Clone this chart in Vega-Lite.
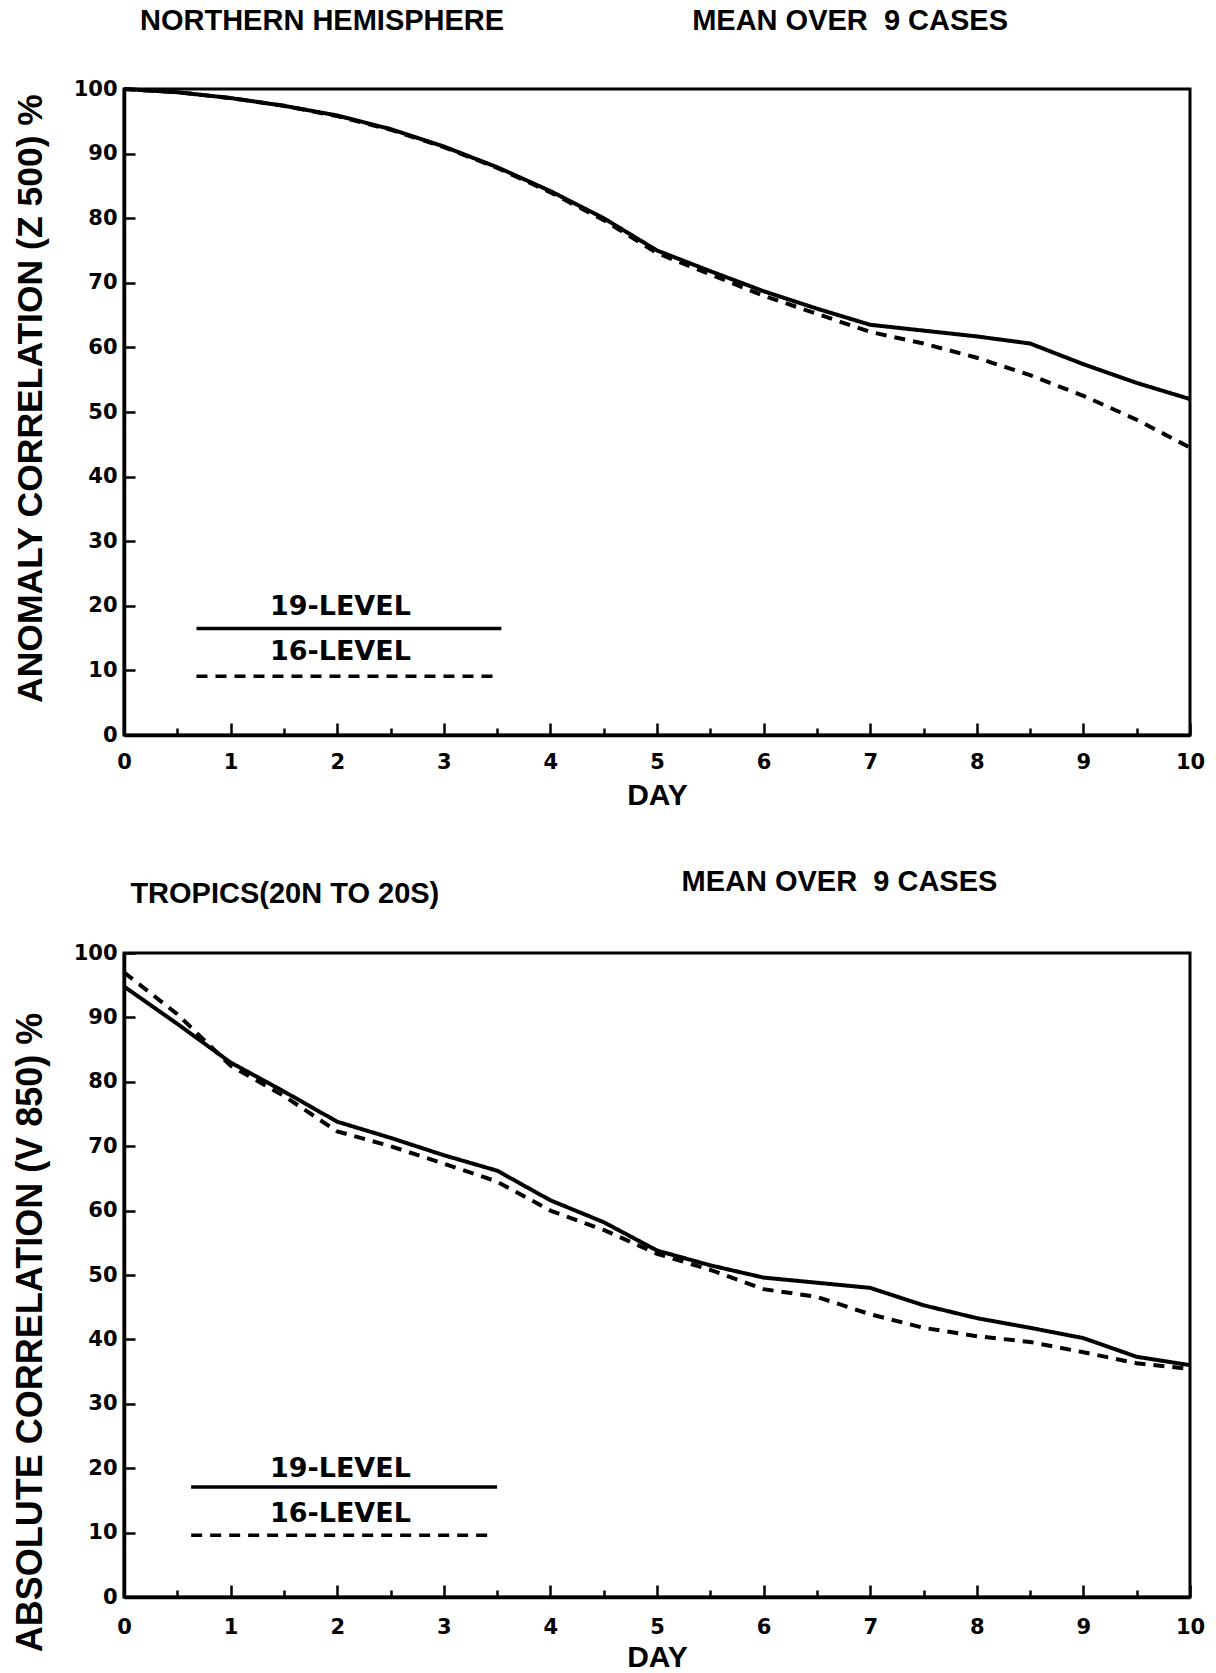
{
  "$schema": "https://vega.github.io/schema/vega-lite/v6.json",
  "padding": {"left": 10, "top": 5, "right": 0, "bottom": 0},
  "background": "white",
  "spacing": 218,
  "bounds": "flush",
  "config": {
    "view": {"stroke": "black", "strokeWidth": 3},
    "axis": {
      "grid": false,
      "domainColor": "black",
      "domainWidth": 3.5,
      "tickColor": "black",
      "tickWidth": 2.5,
      "labelFont": "DejaVu Sans",
      "labelFontWeight": "bold",
      "labelFontSize": 21,
      "labelColor": "black",
      "labelFlush": false,
      "labelOverlap": false,
      "labelBound": false,
      "titleFont": "Liberation Sans",
      "titleFontWeight": "bold",
      "titleColor": "black"
    }
  },
  "datasets": {
    "nh": [
      {"series": "19-LEVEL", "day": 0, "value": 100}, {"series": "19-LEVEL", "day": 0.5, "value": 99.5}, {"series": "19-LEVEL", "day": 1, "value": 98.6}, {"series": "19-LEVEL", "day": 1.5, "value": 97.4}, {"series": "19-LEVEL", "day": 2, "value": 95.9}, {"series": "19-LEVEL", "day": 2.5, "value": 93.8}, {"series": "19-LEVEL", "day": 3, "value": 91.1}, {"series": "19-LEVEL", "day": 3.5, "value": 87.9}, {"series": "19-LEVEL", "day": 4, "value": 84.2}, {"series": "19-LEVEL", "day": 4.5, "value": 80.0}, {"series": "19-LEVEL", "day": 5, "value": 75.0}, {"series": "19-LEVEL", "day": 5.5, "value": 71.8}, {"series": "19-LEVEL", "day": 6, "value": 68.7}, {"series": "19-LEVEL", "day": 6.5, "value": 66.0}, {"series": "19-LEVEL", "day": 7, "value": 63.5}, {"series": "19-LEVEL", "day": 7.5, "value": 62.6}, {"series": "19-LEVEL", "day": 8, "value": 61.7}, {"series": "19-LEVEL", "day": 8.5, "value": 60.6}, {"series": "19-LEVEL", "day": 9, "value": 57.4}, {"series": "19-LEVEL", "day": 9.5, "value": 54.5}, {"series": "19-LEVEL", "day": 10, "value": 52.0},
      {"series": "16-LEVEL", "day": 0, "value": 100}, {"series": "16-LEVEL", "day": 0.5, "value": 99.5}, {"series": "16-LEVEL", "day": 1, "value": 98.6}, {"series": "16-LEVEL", "day": 1.5, "value": 97.4}, {"series": "16-LEVEL", "day": 2, "value": 95.8}, {"series": "16-LEVEL", "day": 2.5, "value": 93.7}, {"series": "16-LEVEL", "day": 3, "value": 91.0}, {"series": "16-LEVEL", "day": 3.5, "value": 87.8}, {"series": "16-LEVEL", "day": 4, "value": 84.0}, {"series": "16-LEVEL", "day": 4.5, "value": 79.7}, {"series": "16-LEVEL", "day": 5, "value": 74.6}, {"series": "16-LEVEL", "day": 5.5, "value": 71.3}, {"series": "16-LEVEL", "day": 6, "value": 68.0}, {"series": "16-LEVEL", "day": 6.5, "value": 65.2}, {"series": "16-LEVEL", "day": 7, "value": 62.4}, {"series": "16-LEVEL", "day": 7.5, "value": 60.6}, {"series": "16-LEVEL", "day": 8, "value": 58.4}, {"series": "16-LEVEL", "day": 8.5, "value": 55.7}, {"series": "16-LEVEL", "day": 9, "value": 52.5}, {"series": "16-LEVEL", "day": 9.5, "value": 48.8}, {"series": "16-LEVEL", "day": 10, "value": 44.5}
    ],
    "tr": [
      {"series": "19-LEVEL", "day": 0, "value": 94.8}, {"series": "19-LEVEL", "day": 0.5, "value": 89.0}, {"series": "19-LEVEL", "day": 1, "value": 83.0}, {"series": "19-LEVEL", "day": 1.5, "value": 78.5}, {"series": "19-LEVEL", "day": 2, "value": 73.8}, {"series": "19-LEVEL", "day": 2.5, "value": 71.3}, {"series": "19-LEVEL", "day": 3, "value": 68.6}, {"series": "19-LEVEL", "day": 3.5, "value": 66.2}, {"series": "19-LEVEL", "day": 4, "value": 61.6}, {"series": "19-LEVEL", "day": 4.5, "value": 58.2}, {"series": "19-LEVEL", "day": 5, "value": 53.8}, {"series": "19-LEVEL", "day": 5.5, "value": 51.5}, {"series": "19-LEVEL", "day": 6, "value": 49.6}, {"series": "19-LEVEL", "day": 6.5, "value": 48.8}, {"series": "19-LEVEL", "day": 7, "value": 48.0}, {"series": "19-LEVEL", "day": 7.5, "value": 45.3}, {"series": "19-LEVEL", "day": 8, "value": 43.3}, {"series": "19-LEVEL", "day": 8.5, "value": 41.8}, {"series": "19-LEVEL", "day": 9, "value": 40.2}, {"series": "19-LEVEL", "day": 9.5, "value": 37.3}, {"series": "19-LEVEL", "day": 10, "value": 36.0},
      {"series": "16-LEVEL", "day": 0, "value": 97.0}, {"series": "16-LEVEL", "day": 0.5, "value": 90.5}, {"series": "16-LEVEL", "day": 1, "value": 82.5}, {"series": "16-LEVEL", "day": 1.5, "value": 77.8}, {"series": "16-LEVEL", "day": 2, "value": 72.3}, {"series": "16-LEVEL", "day": 2.5, "value": 70.0}, {"series": "16-LEVEL", "day": 3, "value": 67.3}, {"series": "16-LEVEL", "day": 3.5, "value": 64.5}, {"series": "16-LEVEL", "day": 4, "value": 60.0}, {"series": "16-LEVEL", "day": 4.5, "value": 57.0}, {"series": "16-LEVEL", "day": 5, "value": 53.3}, {"series": "16-LEVEL", "day": 5.5, "value": 50.8}, {"series": "16-LEVEL", "day": 6, "value": 47.8}, {"series": "16-LEVEL", "day": 6.5, "value": 46.6}, {"series": "16-LEVEL", "day": 7, "value": 43.9}, {"series": "16-LEVEL", "day": 7.5, "value": 41.8}, {"series": "16-LEVEL", "day": 8, "value": 40.5}, {"series": "16-LEVEL", "day": 8.5, "value": 39.6}, {"series": "16-LEVEL", "day": 9, "value": 38.0}, {"series": "16-LEVEL", "day": 9.5, "value": 36.3}, {"series": "16-LEVEL", "day": 10, "value": 35.4}
    ],
    "nhLegend": [
      {"series": "19-LEVEL", "x1": 0.68, "x2": 3.54, "y": 16.5, "ty": 19.8},
      {"series": "16-LEVEL", "x1": 0.68, "x2": 3.48, "y": 9.1, "ty": 12.8}
    ],
    "trLegend": [
      {"series": "19-LEVEL", "x1": 0.63, "x2": 3.5, "y": 17.1, "ty": 19.9},
      {"series": "16-LEVEL", "x1": 0.63, "x2": 3.44, "y": 9.6, "ty": 12.9}
    ],
    "nhTitles": [
      {"t": "NORTHERN HEMISPHERE", "x": 0.15, "y": 110.5},
      {"t": "MEAN OVER\u00a0 9 CASES", "x": 5.33, "y": 110.5}
    ],
    "trTitles": [
      {"t": "TROPICS(20N TO 20S)", "x": 0.06, "y": 109.2},
      {"t": "MEAN OVER\u00a0 9 CASES", "x": 5.23, "y": 111.0}
    ]
  },
  "vconcat": [
    {
      "width": 1066,
      "height": 646,
      "layer": [
        {
          "data": {"name": "nh"},
          "mark": {"type": "line", "color": "black", "strokeWidth": 4},
          "encoding": {
            "x": {
              "field": "day", "type": "quantitative",
              "scale": {"domain": [0, 10], "nice": false},
              "axis": {
                "title": "DAY",
                "titleFontSize": 30,
                "titleY": 60,
                "titleBaseline": "middle",
                "values": [0, 0.5, 1, 1.5, 2, 2.5, 3, 3.5, 4, 4.5, 5, 5.5, 6, 6.5, 7, 7.5, 8, 8.5, 9, 9.5, 10],
                "labelExpr": "datum.value % 1 === 0 ? format(datum.value, 'd') : ''",
                "tickSize": {"condition": {"test": "datum.value % 1 === 0", "value": -12}, "value": -7},
                "labelPadding": 28
              }
            },
            "y": {
              "field": "value", "type": "quantitative",
              "scale": {"domain": [0, 100], "nice": false},
              "axis": {
                "title": "ANOMALY CORRELATION (Z 500) %",
                "titleFontSize": 35.5,
                "titleAngle": -90,
                "titleX": -94,
                "titleY": 309,
                "titleAlign": "center",
                "titleBaseline": "middle",
                "values": [0, 5, 10, 15, 20, 25, 30, 35, 40, 45, 50, 55, 60, 65, 70, 75, 80, 85, 90, 95, 100],
                "labelExpr": "datum.value % 10 === 0 ? format(datum.value, 'd') : ''",
                "tickSize": {"condition": {"test": "datum.value % 10 === 0", "value": -11}, "value": -6},
                "labelPadding": 18
              }
            },
            "strokeDash": {
              "field": "series", "type": "nominal",
              "scale": {"domain": ["19-LEVEL", "16-LEVEL"], "range": [[1, 0], [11, 8]]},
              "legend": null
            }
          }
        },
        {
          "mark": {"type": "rule", "color": "black", "strokeWidth": 2, "strokeDash": [2, 6]},
          "encoding": {"y": {"datum": 60}}
        },
        {
          "data": {"name": "nhLegend"},
          "mark": {"type": "rule", "color": "black", "strokeWidth": 3.5},
          "encoding": {
            "x": {"field": "x1", "type": "quantitative"},
            "x2": {"field": "x2"},
            "y": {"field": "y", "type": "quantitative"},
            "strokeDash": {"field": "series", "type": "nominal", "legend": null}
          }
        },
        {
          "data": {"name": "nhLegend"},
          "mark": {"type": "text", "font": "DejaVu Sans", "fontWeight": "bold", "fontSize": 27, "align": "center", "baseline": "middle", "color": "black"},
          "encoding": {
            "x": {"datum": 2.03, "type": "quantitative"},
            "y": {"field": "ty", "type": "quantitative"},
            "text": {"field": "series"}
          }
        },
        {
          "data": {"name": "nhTitles"},
          "mark": {"type": "text", "font": "Liberation Sans", "fontWeight": "bold", "fontSize": 29, "align": "left", "baseline": "middle", "color": "black"},
          "encoding": {
            "x": {"field": "x", "type": "quantitative"},
            "y": {"field": "y", "type": "quantitative"},
            "text": {"field": "t"}
          }
        }
      ]
    },
    {
      "width": 1066,
      "height": 644,
      "layer": [
        {
          "data": {"name": "tr"},
          "mark": {"type": "line", "color": "black", "strokeWidth": 4},
          "encoding": {
            "x": {
              "field": "day", "type": "quantitative",
              "scale": {"domain": [0, 10], "nice": false},
              "axis": {
                "title": "DAY",
                "titleFontSize": 30,
                "titleY": 60,
                "titleBaseline": "middle",
                "values": [0, 0.5, 1, 1.5, 2, 2.5, 3, 3.5, 4, 4.5, 5, 5.5, 6, 6.5, 7, 7.5, 8, 8.5, 9, 9.5, 10],
                "labelExpr": "datum.value % 1 === 0 ? format(datum.value, 'd') : ''",
                "tickSize": {"condition": {"test": "datum.value % 1 === 0", "value": -12}, "value": -7},
                "labelPadding": 31
              }
            },
            "y": {
              "field": "value", "type": "quantitative",
              "scale": {"domain": [0, 100], "nice": false},
              "axis": {
                "title": "ABSOLUTE CORRELATION (V 850) %",
                "titleFontSize": 36,
                "titleAngle": -90,
                "titleX": -94,
                "titleY": 379,
                "titleAlign": "center",
                "titleBaseline": "middle",
                "values": [0, 5, 10, 15, 20, 25, 30, 35, 40, 45, 50, 55, 60, 65, 70, 75, 80, 85, 90, 95, 100],
                "labelExpr": "datum.value % 10 === 0 ? format(datum.value, 'd') : ''",
                "tickSize": {"condition": {"test": "datum.value % 10 === 0", "value": -11}, "value": -6},
                "labelPadding": 18
              }
            },
            "strokeDash": {
              "field": "series", "type": "nominal",
              "scale": {"domain": ["19-LEVEL", "16-LEVEL"], "range": [[1, 0], [11, 8]]},
              "legend": null
            }
          }
        },
        {
          "data": {"name": "trLegend"},
          "mark": {"type": "rule", "color": "black", "strokeWidth": 3.5},
          "encoding": {
            "x": {"field": "x1", "type": "quantitative"},
            "x2": {"field": "x2"},
            "y": {"field": "y", "type": "quantitative"},
            "strokeDash": {"field": "series", "type": "nominal", "legend": null}
          }
        },
        {
          "data": {"name": "trLegend"},
          "mark": {"type": "text", "font": "DejaVu Sans", "fontWeight": "bold", "fontSize": 27, "align": "center", "baseline": "middle", "color": "black"},
          "encoding": {
            "x": {"datum": 2.03, "type": "quantitative"},
            "y": {"field": "ty", "type": "quantitative"},
            "text": {"field": "series"}
          }
        },
        {
          "data": {"name": "trTitles"},
          "mark": {"type": "text", "font": "Liberation Sans", "fontWeight": "bold", "fontSize": 29, "align": "left", "baseline": "middle", "color": "black"},
          "encoding": {
            "x": {"field": "x", "type": "quantitative"},
            "y": {"field": "y", "type": "quantitative"},
            "text": {"field": "t"}
          }
        }
      ]
    }
  ]
}
